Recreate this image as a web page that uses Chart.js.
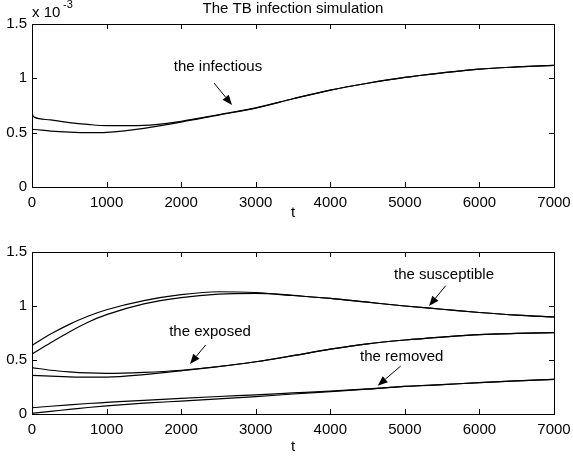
<!DOCTYPE html>
<html lang="en">
<head>
    <meta charset="UTF-8">
    <title>The TB infection simulation</title>
    <script src="https://cdn.jsdelivr.net/npm/chart.js"></script>
    <style>
        body { margin: 0; background: #fff; }
        canvas { position: absolute; left: 0; }
        #topChart { top: 0; }
        #bottomChart { top: 220px; }
    </style>
</head>
<body>
    <canvas id="topChart" width="573" height="220"></canvas>
    <canvas id="bottomChart" width="573" height="237"></canvas>

    <script>
        // time axis and tick labels
        const xTicks = [0, 1000, 2000, 3000, 4000, 5000, 6000, 7000];
        const yTicks = [0, 0.5, 1, 1.5];

        // infectious (units of 1e-3), with the early spike at t=0
        const tInf = [0, 10, 30, 250, 500, 750, 1000, 1500, 2000, 2500, 3000, 3500, 4000, 4500, 5000, 5500, 6000, 6500, 7000];
        const infectiousA = [0.72, 0.66, 0.643, 0.617, 0.593, 0.576, 0.565, 0.568, 0.605, 0.665, 0.728, 0.812, 0.892, 0.955, 1.009, 1.05, 1.085, 1.105, 1.12];
        const infectiousB = [0.53, 0.53, 0.529, 0.515, 0.505, 0.5, 0.503, 0.54, 0.597, 0.662, 0.726, 0.812, 0.892, 0.955, 1.009, 1.05, 1.085, 1.105, 1.12];

        // bottom panel
        const t = [0, 250, 500, 750, 1000, 1500, 2000, 2500, 3000, 3500, 4000, 4500, 5000, 5500, 6000, 6500, 7000];
        const susceptibleA = [0.635, 0.74, 0.83, 0.905, 0.965, 1.05, 1.105, 1.132, 1.125, 1.098, 1.07, 1.035, 1.0, 0.97, 0.94, 0.915, 0.898];
        const susceptibleB = [0.555, 0.66, 0.76, 0.85, 0.92, 1.02, 1.078, 1.11, 1.117, 1.097, 1.07, 1.035, 1.0, 0.97, 0.94, 0.915, 0.898];
        const exposedA = [0.43, 0.405, 0.39, 0.38, 0.376, 0.385, 0.405, 0.44, 0.484, 0.54, 0.6, 0.65, 0.685, 0.712, 0.735, 0.746, 0.753];
        const exposedB = [0.358, 0.35, 0.344, 0.341, 0.342, 0.365, 0.4, 0.438, 0.484, 0.54, 0.6, 0.65, 0.685, 0.712, 0.735, 0.746, 0.753];
        const removedA = [0.058, 0.072, 0.085, 0.097, 0.107, 0.127, 0.145, 0.162, 0.178, 0.195, 0.212, 0.232, 0.255, 0.272, 0.29, 0.306, 0.321];
        const removedB = [0.006, 0.025, 0.042, 0.06, 0.075, 0.1, 0.12, 0.14, 0.16, 0.185, 0.207, 0.23, 0.255, 0.272, 0.29, 0.306, 0.321];

        // annotations in data coordinates: label position, arrow start, arrow tip
        const topNotes = [
            { text: 'the infectious', tx: 2494, ty: 1.104, x0: 2441, y0: 0.957, x1: 2682, y1: 0.755 }
        ];
        const bottomNotes = [
            { text: 'the susceptible', tx: 5525, ty: 1.287, x0: 5548, y0: 1.188, x1: 5324, y1: 1.0 },
            { text: 'the exposed', tx: 2387, ty: 0.756, x0: 2329, y0: 0.639, x1: 2119, y1: 0.463 },
            { text: 'the removed', tx: 4958, ty: 0.531, x0: 4944, y0: 0.444, x1: 4636, y1: 0.262 }
        ];

        const FAMILY = '"Liberation Sans", Arial, Helvetica, sans-serif';
        const FONT = '15px ' + FAMILY;

        function toPoints(xs, ys) {
            return xs.map((x, i) => ({ x: x, y: ys[i] }));
        }

        function line(xs, ys) {
            return {
                data: toPoints(xs, ys),
                borderColor: '#000',
                borderWidth: 1.2,
                pointRadius: 0,
                fill: false,
                cubicInterpolationMode: 'monotone'
            };
        }

        // box around the plot, inward ticks, annotations, extra text
        const matlabAxes = {
            id: 'matlabAxes',
            afterDraw(chart, args, opts) {
                const { ctx, chartArea: a, scales: { x, y } } = chart;
                ctx.save();
                ctx.strokeStyle = '#000';
                ctx.fillStyle = '#000';
                ctx.lineWidth = 1;
                ctx.strokeRect(Math.round(a.left) + 0.5, Math.round(a.top) + 0.5,
                    Math.round(a.right - a.left), Math.round(a.bottom - a.top));

                ctx.beginPath();
                xTicks.forEach(v => {
                    const px = Math.round(x.getPixelForValue(v)) + 0.5;
                    ctx.moveTo(px, a.bottom); ctx.lineTo(px, a.bottom - 5);
                    ctx.moveTo(px, a.top); ctx.lineTo(px, a.top + 5);
                });
                yTicks.forEach(v => {
                    const py = Math.round(y.getPixelForValue(v)) + 0.5;
                    ctx.moveTo(a.left, py); ctx.lineTo(a.left + 5, py);
                    ctx.moveTo(a.right, py); ctx.lineTo(a.right - 5, py);
                });
                ctx.stroke();

                ctx.font = FONT;
                ctx.textAlign = 'center';
                ctx.textBaseline = 'middle';
                (opts.notes || []).forEach(n => {
                    ctx.fillText(n.text, x.getPixelForValue(n.tx), y.getPixelForValue(n.ty));
                    const sx = x.getPixelForValue(n.x0), sy = y.getPixelForValue(n.y0);
                    const ex = x.getPixelForValue(n.x1), ey = y.getPixelForValue(n.y1);
                    const ang = Math.atan2(ey - sy, ex - sx);
                    const len = 10, half = 4;
                    const bx = ex - len * Math.cos(ang), by = ey - len * Math.sin(ang);
                    ctx.beginPath();
                    ctx.moveTo(sx, sy); ctx.lineTo(bx, by);
                    ctx.stroke();
                    ctx.beginPath();
                    ctx.moveTo(ex, ey);
                    ctx.lineTo(bx + half * Math.sin(ang), by - half * Math.cos(ang));
                    ctx.lineTo(bx - half * Math.sin(ang), by + half * Math.cos(ang));
                    ctx.closePath();
                    ctx.fill();
                });

                // x axis label
                ctx.fillText('t', (a.left + a.right) / 2, opts.tY);

                if (opts.title) {
                    ctx.fillText(opts.title, (a.left + a.right) / 2, 9);
                    ctx.textAlign = 'left';
                    ctx.fillText('x 10', a.left, 13);
                    ctx.font = '11px ' + FAMILY;
                    ctx.fillText('-3', a.left + 31, 5);
                }
                ctx.restore();
            }
        };

        function makeOptions(padTop, xHeight, notes, tY, title) {
            return {
                responsive: false,
                animation: false,
                layout: { padding: { top: padTop, right: 19, left: 0, bottom: 0 } },
                plugins: {
                    legend: { display: false },
                    tooltip: { enabled: false },
                    matlabAxes: { notes: notes, tY: tY, title: title }
                },
                scales: {
                    x: {
                        type: 'linear',
                        min: 0,
                        max: 7000,
                        afterFit(s) { s.height = xHeight; s.paddingRight = 0; },
                        afterBuildTicks(s) { s.ticks = xTicks.map(v => ({ value: v })); },
                        grid: { display: false, drawTicks: false },
                        border: { display: false },
                        ticks: {
                            color: '#000',
                            font: { family: FAMILY, size: 15 },
                            padding: 7,
                            maxRotation: 0,
                            autoSkip: false,
                            callback: v => String(v)
                        }
                    },
                    y: {
                        min: 0,
                        max: 1.5,
                        afterFit(s) { s.width = 32; },
                        afterBuildTicks(s) { s.ticks = yTicks.map(v => ({ value: v })); },
                        grid: { display: false, drawTicks: false },
                        border: { display: false },
                        ticks: {
                            color: '#000',
                            font: { family: FAMILY, size: 15 },
                            padding: 5,
                            callback: v => String(v)
                        }
                    }
                }
            };
        }

        new Chart(document.getElementById('topChart'), {
            type: 'line',
            data: {
                datasets: [line(tInf, infectiousA), line(tInf, infectiousB)]
            },
            options: makeOptions(24, 33, topNotes, 213, 'The TB infection simulation'),
            plugins: [matlabAxes]
        });

        new Chart(document.getElementById('bottomChart'), {
            type: 'line',
            data: {
                datasets: [
                    line(t, susceptibleA), line(t, susceptibleB),
                    line(t, exposedA), line(t, exposedB),
                    line(t, removedA), line(t, removedB)
                ]
            },
            options: makeOptions(32, 43, bottomNotes, 227, null),
            plugins: [matlabAxes]
        });
    </script>
</body>
</html>
